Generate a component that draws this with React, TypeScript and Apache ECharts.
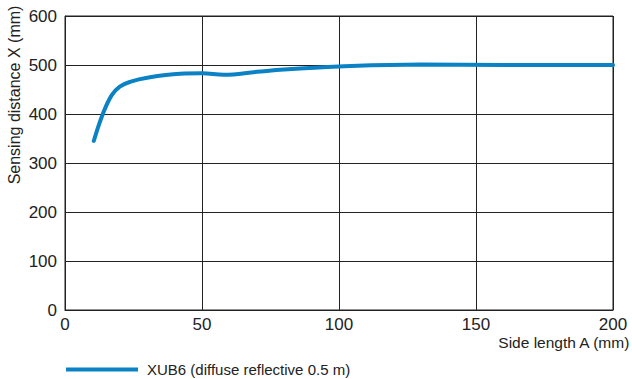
import React, { useEffect, useRef } from "react";
import * as echarts from "echarts";

const sideLength = [10.5, 13.8, 17, 20, 24, 30, 42, 50, 58, 70, 80, 100, 130, 160, 200];
const sensingDistance = [345, 400, 438, 456, 466, 474, 482, 483, 480, 486, 491, 497, 501, 500, 500];
const seriesName = "XUB6 (diffuse reflective 0.5 m)";
const xName = "Side length A (mm)";
const yName = "Sensing distance X (mm)";

export default function App() {
  const ref = useRef<HTMLDivElement>(null);
  useEffect(() => {
    if (!ref.current) return;
    const chart = echarts.init(ref.current, undefined, { renderer: "svg" });
    const font = "Liberation Sans, Arial, sans-serif";
    chart.setOption({
      animation: false,
      textStyle: { fontFamily: font },
      grid: { left: 65, right: 19, top: 16, bottom: 69, show: true, borderColor: "#222", borderWidth: 1 },
      xAxis: {
        type: "value",
        min: 0,
        max: 200,
        interval: 50,
        axisLine: { show: true, lineStyle: { color: "#222", width: 1 } },
        axisTick: { show: false },
        axisLabel: { color: "#222", fontSize: 17, margin: 6, fontFamily: font },
        splitLine: { show: true, lineStyle: { color: "#222", width: 1 } },
      },
      yAxis: {
        type: "value",
        min: 0,
        max: 600,
        interval: 100,
        axisLine: { show: true, lineStyle: { color: "#222", width: 1 } },
        axisTick: { show: false },
        axisLabel: { color: "#222", fontSize: 17, margin: 8, fontFamily: font },
        splitLine: { show: true, lineStyle: { color: "#222", width: 1 } },
      },
      legend: {
        left: 66,
        top: 361,
        padding: 0,
        itemWidth: 72,
        itemHeight: 4,
        itemGap: 10,
        icon: "rect",
        textStyle: { color: "#222", fontSize: 15, lineHeight: 17, fontFamily: font, padding: [0, 0, 0, 4] },
        data: [seriesName],
      },
      graphic: [
        {
          type: "text",
          right: 1,
          top: 334,
          style: { text: xName, fontSize: 15.5, fill: "#222", fontFamily: font },
        },
        {
          type: "text",
          x: 6,
          y: 95,
          rotation: Math.PI / 2,
          style: {
            text: yName,
            fontSize: 16,
            fill: "#222",
            fontFamily: font,
            align: "center",
            verticalAlign: "top",
          },
        },
      ],
      series: [
        {
          name: seriesName,
          type: "line",
          smooth: 0.4,
          showSymbol: false,
          color: "#0a82c4",
          lineStyle: { width: 4, color: "#0a82c4", cap: "round" },
          data: sideLength.map((a, i) => [a, sensingDistance[i]]),
        },
      ],
    });
    return () => chart.dispose();
  }, []);
  return <div ref={ref} style={{ width: 632, height: 379, position: "absolute", left: 0, top: 0 }} />;
}
